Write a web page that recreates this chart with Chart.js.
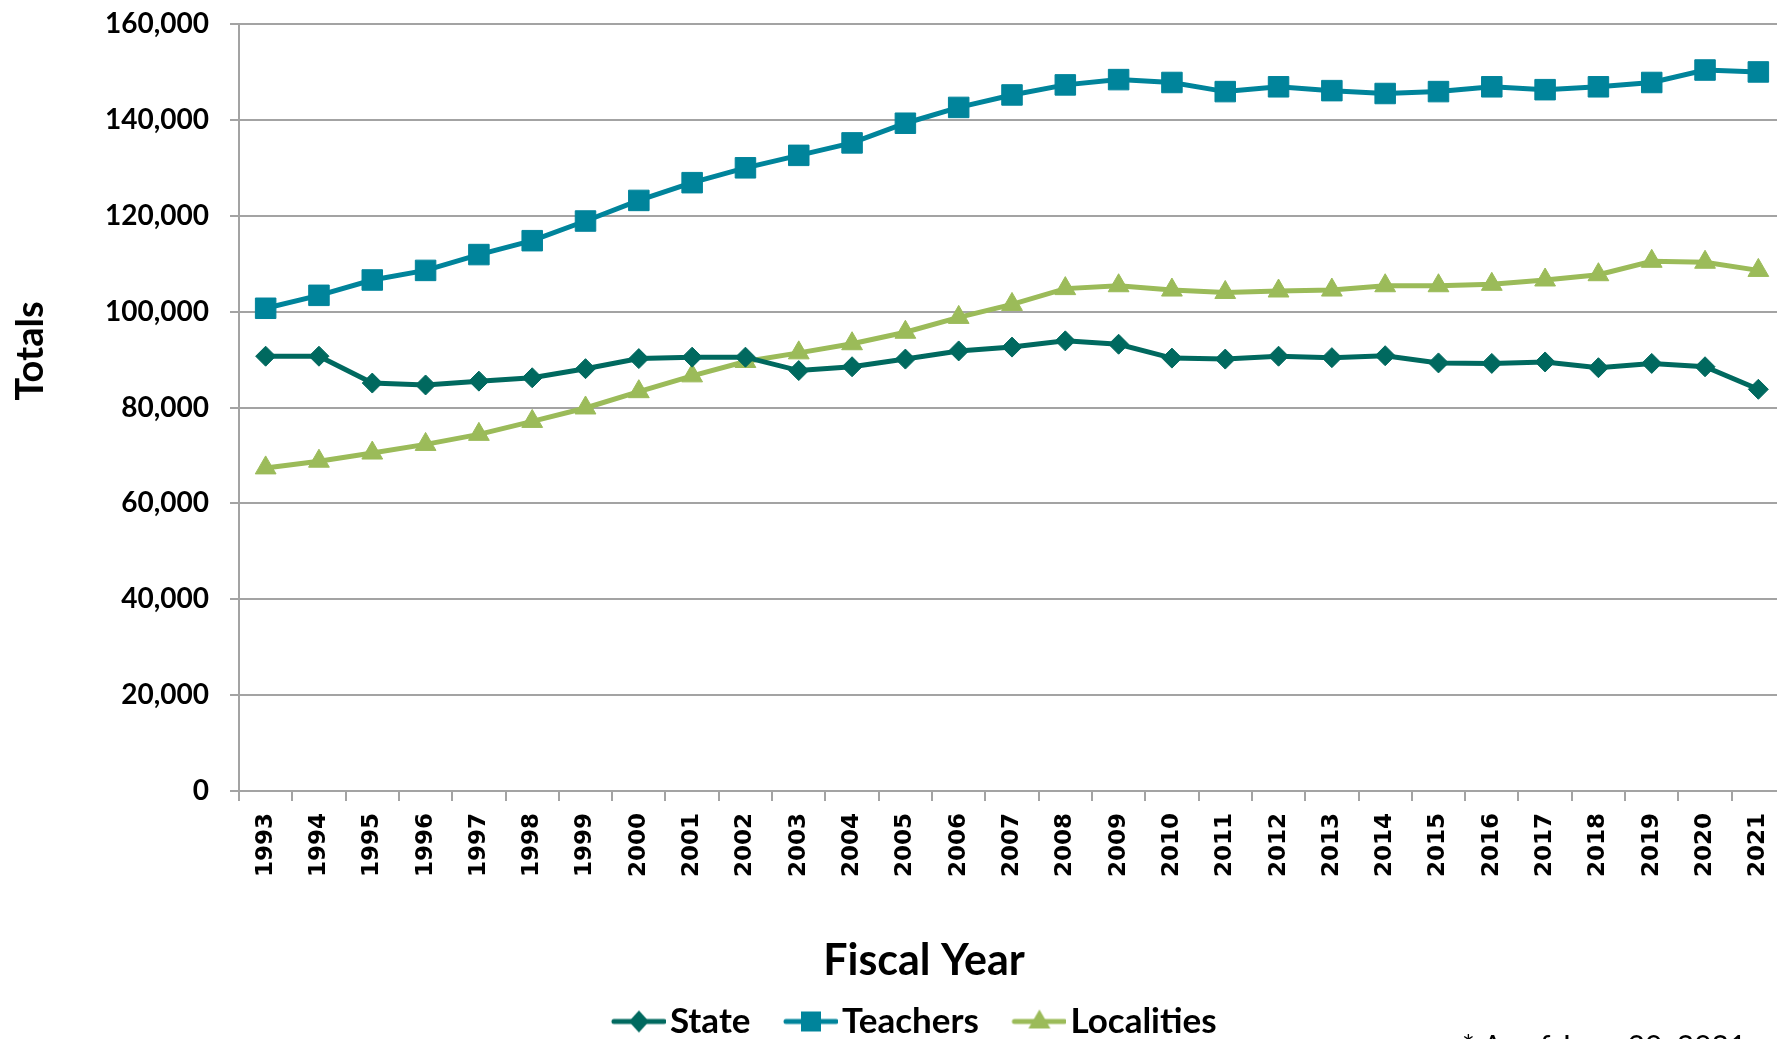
<!DOCTYPE html>
<html>
<head>
<meta charset="utf-8">
<title>Totals by Fiscal Year</title>
<script src="https://cdn.jsdelivr.net/npm/chart.js@4/dist/chart.umd.min.js"></script>
<style>
    html, body { margin: 0; padding: 0; background: #fff; overflow: hidden; }
    canvas { display: block; }
</style>
</head>
<body>
<canvas id="totals-chart" width="1830" height="1039"></canvas>
<script>
const years = ['1993', '1994', '1995', '1996', '1997', '1998', '1999', '2000', '2001', '2002',
    '2003', '2004', '2005', '2006', '2007', '2008', '2009', '2010', '2011', '2012',
    '2013', '2014', '2015', '2016', '2017', '2018', '2019', '2020', '2021'];

const stateTotals = [90700, 90700, 85100, 84700, 85500, 86200, 88100, 90200, 90500, 90500,
    87700, 88500, 90100, 91800, 92600, 93900, 93200, 90300, 90100, 90700,
    90400, 90800, 89300, 89200, 89500, 88300, 89200, 88500, 83800];

const teacherTotals = [100700, 103400, 106600, 108600, 111900, 114800, 118900, 123200, 126900, 130000,
    132600, 135200, 139300, 142600, 145200, 147300, 148400, 147800, 145900, 146900,
    146100, 145500, 145900, 146900, 146300, 146900, 147800, 150400, 150000];

const localityTotals = [67400, 68800, 70500, 72300, 74400, 77100, 79900, 83300, 86600, 89600,
    91400, 93300, 95700, 98800, 101500, 104800, 105400, 104500, 104000, 104300,
    104500, 105400, 105400, 105700, 106600, 107700, 110500, 110300, 108600];

const yTicks = [0, 20000, 40000, 60000, 80000, 100000, 120000, 140000, 160000];

const seriesNames = ['State', 'Teachers', 'Localities'];
const seriesColors = ['#00695f', '#00849b', '#9bbb59'];
const seriesMarkers = ['rectRot', 'rect', 'triangle'];
const markerRadius = [10, 14.5, 12];

const gridColor = '#a3a3a3';

// legend swatch: short line with the series marker sitting on it
function makeSwatch(color, marker) {
    const c = document.createElement('canvas');
    c.width = 91;
    c.height = 34;
    const g = c.getContext('2d');
    g.strokeStyle = color;
    g.fillStyle = color;
    g.lineWidth = 5;
    g.lineCap = 'round';
    g.beginPath();
    g.moveTo(39, 17);
    g.lineTo(89, 17);
    g.stroke();

    const cx = 64, cy = 17;
    g.beginPath();
    if (marker === 'rectRot') {
        g.moveTo(cx, cy - 11);
        g.lineTo(cx + 10, cy);
        g.lineTo(cx, cy + 11);
        g.lineTo(cx - 10, cy);
    } else if (marker === 'rect') {
        g.rect(cx - 10, cy - 10, 20, 20);
    } else {
        g.moveTo(cx, cy - 12);
        g.lineTo(cx + 11, cy + 7);
        g.lineTo(cx - 11, cy + 7);
    }
    g.closePath();
    g.fill();
    return c;
}

const swatches = seriesColors.map((col, i) => makeSwatch(col, seriesMarkers[i]));

// axis titles and the footnote are placed by hand, outside the scale layout
const extraText = {
    id: 'extraText',
    afterLayout(chart) {
        const lg = chart.legend;
        lg.left += 10;
        lg.right += 10;
        lg.top += 10;
        lg.bottom += 10;
    },
    afterDraw(chart) {
        const ctx = chart.ctx;
        ctx.save();
        ctx.fillStyle = '#000';
        ctx.textAlign = 'center';
        ctx.textBaseline = 'middle';

        ctx.font = 'bold 38px Lato';
        ctx.translate(31, 351);
        ctx.rotate(-Math.PI / 2);
        ctx.fillText('Totals', 0, 0);
        ctx.setTransform(1, 0, 0, 1, 0, 0);

        ctx.font = 'bold 43px Lato';
        ctx.fillText('Fiscal Year', 924, 961);

        ctx.font = '30px Lato';
        ctx.textAlign = 'left';
        ctx.textBaseline = 'alphabetic';
        ctx.fillText('* As of June 30, 2021', 1462, 1057);
        ctx.restore();
    }
};

function buildDatasets() {
    const values = [stateTotals, teacherTotals, localityTotals];
    return seriesNames.map((name, i) => ({
        label: name,
        data: values[i],
        borderColor: seriesColors[i],
        backgroundColor: seriesColors[i],
        borderWidth: 5,
        tension: 0,
        pointStyle: seriesMarkers[i],
        pointRadius: markerRadius[i],
        pointHoverRadius: markerRadius[i],
        pointBorderWidth: 1,
        pointBackgroundColor: seriesColors[i],
        pointBorderColor: seriesColors[i]
    }));
}

document.addEventListener('DOMContentLoaded', function() {
    const ctx = document.getElementById('totals-chart').getContext('2d');

    new Chart(ctx, {
        type: 'line',
        data: {
            labels: years,
            datasets: buildDatasets()
        },
        plugins: [extraText],
        options: {
            responsive: false,
            animation: false,
            events: [],
            layout: {
                padding: { top: 24, right: 45, bottom: 0, left: 0 }
            },
            plugins: {
                title: { display: false },
                tooltip: { enabled: false },
                legend: {
                    position: 'bottom',
                    labels: {
                        usePointStyle: true,
                        pointStyleWidth: 64,
                        padding: 10,
                        color: '#000',
                        font: { family: 'Lato', size: 35, weight: 'bold' },
                        generateLabels(chart) {
                            return chart.data.datasets.map((ds, i) => ({
                                text: ds.label,
                                pointStyle: swatches[i],
                                fillStyle: ds.borderColor,
                                strokeStyle: ds.borderColor,
                                lineWidth: 0,
                                hidden: false,
                                datasetIndex: i
                            }));
                        }
                    }
                }
            },
            scales: {
                x: {
                    offset: true,
                    border: { color: gridColor, width: 2 },
                    grid: {
                        offset: true,
                        drawOnChartArea: false,
                        drawTicks: true,
                        tickLength: 10,
                        color: gridColor,
                        lineWidth: 2
                    },
                    ticks: {
                        autoSkip: false,
                        minRotation: 90,
                        maxRotation: 90,
                        padding: 12,
                        color: '#000',
                        font: { family: 'DejaVu Sans', size: 23, weight: 'bold' }
                    },
                    afterFit(scale) {
                        scale.height = scale.chart.height - 791 - scale.chart.legend.height;
                    }
                },
                y: {
                    min: 0,
                    max: 160000,
                    border: { color: gridColor, width: 2 },
                    grid: {
                        color: gridColor,
                        lineWidth: 2,
                        drawTicks: true,
                        tickLength: 9
                    },
                    afterBuildTicks(scale) {
                        scale.ticks = yTicks.map(v => ({ value: v }));
                    },
                    ticks: {
                        padding: 21,
                        color: '#000',
                        font: { family: 'Lato', size: 28, weight: 'bold' },
                        callback: value => value.toLocaleString('en-US')
                    },
                    afterFit(scale) {
                        scale.width = 239;
                        scale.paddingTop = 0;
                        scale.paddingBottom = 0;
                    }
                }
            }
        }
    });
});
</script>
</body>
</html>
